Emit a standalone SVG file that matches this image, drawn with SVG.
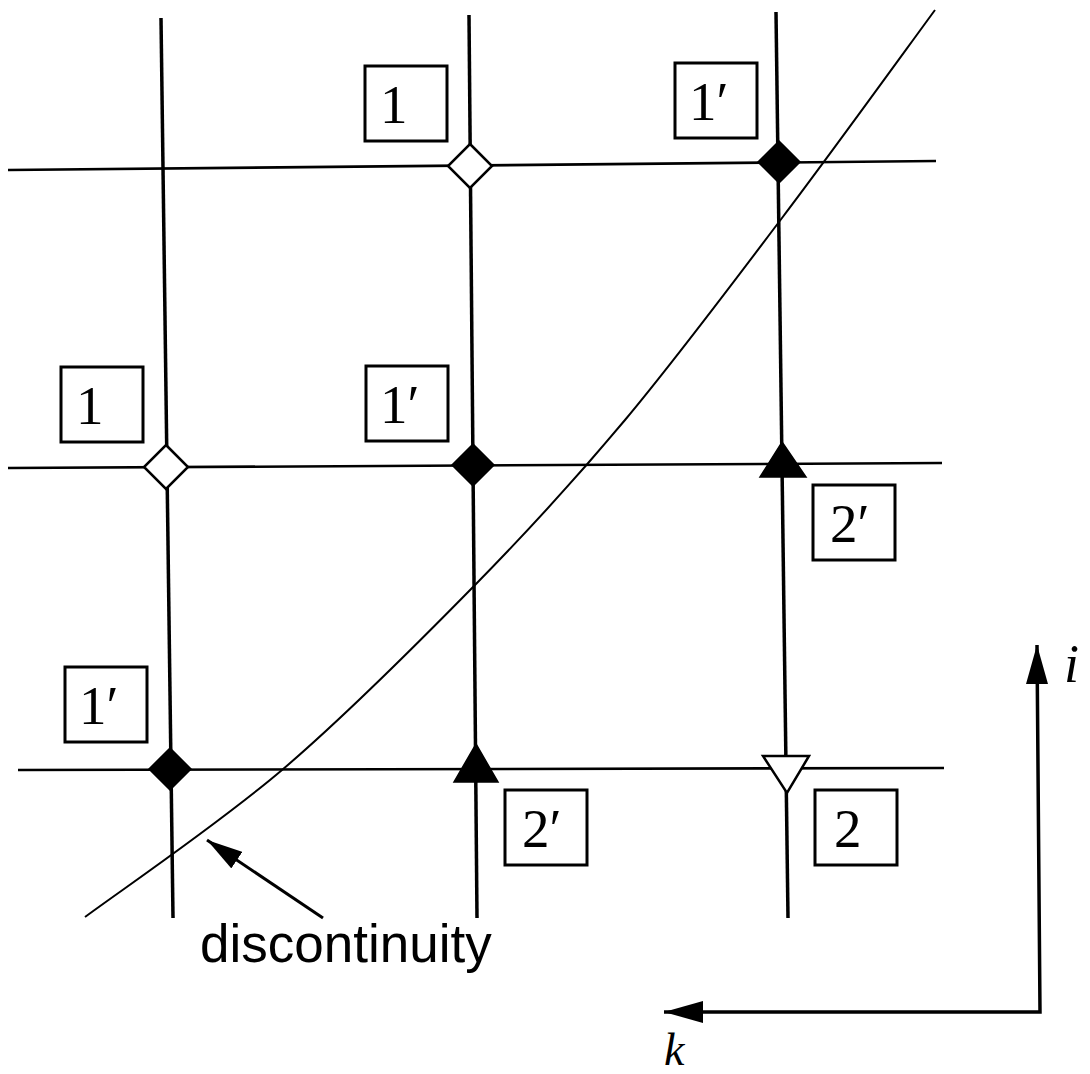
<svg xmlns="http://www.w3.org/2000/svg" width="1090" height="1074" viewBox="0 0 1090 1074">
<style>
.v{stroke:#000;stroke-width:3.5;fill:none;stroke-linecap:butt}
.h{stroke:#000;stroke-width:2.6;fill:none}
.box{fill:#fff;stroke:#000;stroke-width:3}
.lab{font-family:"Liberation Serif","Times New Roman",serif;font-size:55px;fill:#000}
.open{fill:#fff;stroke:#000;stroke-width:2.5}
.full{fill:#000;stroke:#000;stroke-width:1.5}
.ax{font-family:"Liberation Serif","Times New Roman",serif;font-style:italic;font-size:54px;fill:#000}
</style>
<defs>
<marker id="ah" viewBox="0 0 36 20" refX="36" refY="10" markerWidth="36" markerHeight="20" markerUnits="userSpaceOnUse" orient="auto">
<path d="M0,0 L36,10 L0,20 Z" fill="#000"/>
</marker>
</defs>
<rect width="1090" height="1074" fill="#fff"/>
<g id="connectors">
<line class="v" x1="161" y1="18" x2="173" y2="918"/>
<line class="v" x1="469" y1="15" x2="477" y2="918"/>
<line class="v" x1="776" y1="12" x2="788" y2="918"/>
<line class="h" x1="8" y1="170" x2="936" y2="161"/>
<line class="h" x1="8" y1="468" x2="942" y2="463"/>
<line class="h" x1="18" y1="770" x2="944" y2="768"/>
<path d="M85,917 C117.8,892.5 217,825.3 282,770 C347,714.7 417.8,643.3 475,585 C532.2,526.7 573.8,481.2 625,420 C676.2,358.8 730.3,286.3 782,218 C833.7,149.7 909.5,44.7 935,10" fill="none" stroke="#000" stroke-width="2"/>
<line x1="323" y1="918" x2="207" y2="840" stroke="#000" stroke-width="3" marker-end="url(#ah)"/>
<polyline points="664,1012 1040,1012 1037,645" fill="none" stroke="#000" stroke-width="3.5"/>
<path d="M664,1012 L703,1001 L703,1023 Z" fill="#000"/>
<path d="M1037,645 L1026,684 L1048,684 Z" fill="#000"/>
</g>
<g id="node-d1"><path class="open" d="M470,144 L492,166 L470,188 L448,166 Z"/></g>
<g id="node-d2"><path class="full" d="M779,141 L800,162 L779,183 L758,162 Z"/></g>
<g id="node-d3"><path class="open" d="M166,445 L188,467 L166,489 L144,467 Z"/></g>
<g id="node-d4"><path class="full" d="M473,444 L494,465 L473,486 L452,465 Z"/></g>
<g id="node-d5"><path class="full" d="M170,748 L191,769 L170,790 L149,769 Z"/></g>
<g id="node-t1"><path class="full" d="M782,442 L806,477 L760,477 Z"/></g>
<g id="node-t2"><path class="full" d="M476,744 L498,782 L454,782 Z"/></g>
<g id="node-t3"><path class="open" d="M763,756 L809,756 L787,793 Z"/></g>
<g id="label-a"><rect class="box" x="365" y="66" width="82" height="75"/><text class="lab" x="380" y="123">1</text></g>
<g id="label-b"><rect class="box" x="675" y="63" width="82" height="75"/><text class="lab" x="689" y="120">1′</text></g>
<g id="label-c"><rect class="box" x="61" y="367" width="82" height="75"/><text class="lab" x="76" y="424">1</text></g>
<g id="label-d"><rect class="box" x="366" y="366" width="82" height="75"/><text class="lab" x="380" y="423">1′</text></g>
<g id="label-e"><rect class="box" x="813" y="485" width="82" height="75"/><text class="lab" x="830" y="542">2′</text></g>
<g id="label-f"><rect class="box" x="65" y="667" width="82" height="75"/><text class="lab" x="79" y="724">1′</text></g>
<g id="label-g"><rect class="box" x="505" y="790" width="82" height="75"/><text class="lab" x="522" y="847">2′</text></g>
<g id="label-h"><rect class="box" x="815" y="790" width="82" height="75"/><text class="lab" x="834" y="847">2</text></g>
<g id="label-disc"><text x="200" y="962" font-family="'Liberation Sans',Arial,sans-serif" font-size="53" fill="#000">discontinuity</text></g>
<g id="axis-i"><text class="ax" x="1064" y="682">i</text></g>
<g id="axis-k"><text class="ax" x="664" y="1065" style="font-size:46px">k</text></g>
</svg>
